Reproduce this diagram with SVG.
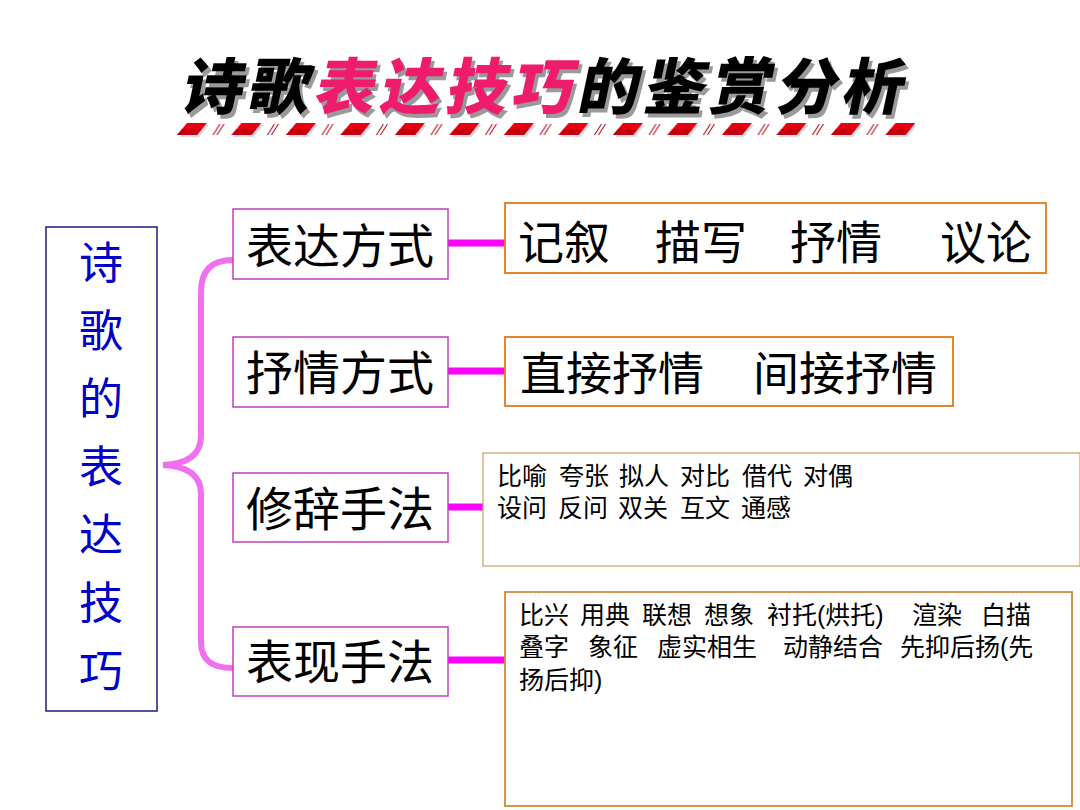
<svg xmlns="http://www.w3.org/2000/svg" width="1080" height="810" viewBox="0 0 1080 810">
<style>
.cjk{font-family:"Noto Sans CJK SC","Noto Sans CJK JP",sans-serif;}
.sm{font-family:"Liberation Sans","Noto Sans CJK SC",sans-serif;}
.cat{font-size:47px;fill:#000;}
.big{font-size:46px;fill:#000;}
.small3{font-size:25px;fill:#000;}
.small4{font-size:25px;fill:#000;}
.vert{font-size:44px;fill:#0000c8;text-anchor:middle;}
.catbox{fill:#fff;stroke:#c040c0;stroke-width:1.5;}
.rbox{fill:#fff;stroke:#e07a20;stroke-width:1.8;}
.conn{stroke:#ff00ff;stroke-width:7;fill:none;}
.title{font-size:61px;font-weight:900;letter-spacing:5px;}
</style>
<defs>
<pattern id="stripe" x="177" y="122" width="54.5" height="16" patternUnits="userSpaceOnUse">
<polygon points="2,15 12,3 32,3 22,15" fill="#d5dde2"/>
<polygon points="0,13 10,1 30,1 20,13" fill="#e60012"/>
<polygon points="0,13 5,7 25,7 20,13" fill="#c4000f"/>
<line x1="36" y1="13" x2="43" y2="2" stroke="#b00010" stroke-width="1"/>
<line x1="40" y1="13" x2="47" y2="2" stroke="#b00010" stroke-width="1"/>
</pattern>
</defs>
<rect width="1080" height="810" fill="#fff"/>

<g id="title">
<g transform="translate(180,109) skewX(-12)">
<text class="cjk title" x="4" y="4" fill="#9a9a9a">诗歌表达技巧的鉴赏分析</text>
<text class="cjk title" x="0" y="0" fill="#000">诗歌<tspan fill="#ee1c6a">表达技巧</tspan>的鉴赏分析</text>
</g>
<rect x="175" y="122" width="740" height="16" fill="url(#stripe)"/>
</g>

<g id="connectors">
<path d="M233,260 C212,260 201,270 201,292 L201,436 C201,456 186,464 163,465 C186,466 201,474 201,494 L201,642 C201,660 212,668 233,668" stroke="#f070f0" stroke-width="6" fill="none" stroke-linecap="round"/>
<line class="conn" x1="448" y1="243" x2="505" y2="243"/>
<line class="conn" x1="448" y1="371" x2="505" y2="371"/>
<line class="conn" x1="448" y1="507" x2="500" y2="507"/>
<line class="conn" x1="448" y1="660" x2="505" y2="660"/>
</g>

<g id="root">
<rect x="46" y="227" width="111" height="484" fill="#fff" stroke="#1a1a80" stroke-width="1.5"/>
<text class="cjk vert" x="101" y="279">诗</text>
<text class="cjk vert" x="101" y="347">歌</text>
<text class="cjk vert" x="101" y="415">的</text>
<text class="cjk vert" x="101" y="483">表</text>
<text class="cjk vert" x="101" y="551">达</text>
<text class="cjk vert" x="101" y="619">技</text>
<text class="cjk vert" x="101" y="687">巧</text>
</g>

<g id="cat1">
<rect class="catbox" x="233" y="209" width="215" height="70"/>
<text class="cjk cat" x="246" y="263">表达方式</text>
</g>
<g id="cat2">
<rect class="catbox" x="233" y="337" width="215" height="70"/>
<text class="cjk cat" x="246" y="390">抒情方式</text>
</g>
<g id="cat3">
<rect class="catbox" x="233" y="473" width="215" height="69"/>
<text class="cjk cat" x="246" y="526">修辞手法</text>
</g>
<g id="cat4">
<rect class="catbox" x="233" y="627" width="215" height="69"/>
<text class="cjk cat" x="246" y="679">表现手法</text>
</g>

<g id="detail1">
<rect class="rbox" x="505" y="203" width="541" height="70"/>
<text class="cjk big" y="258.5"><tspan x="518">记叙</tspan><tspan x="655">描写</tspan><tspan x="790">抒情</tspan><tspan x="940">议论</tspan></text>
</g>
<g id="detail2">
<rect class="rbox" x="505" y="337" width="448" height="69"/>
<text class="cjk big" y="389.5"><tspan x="520">直接抒情</tspan><tspan x="753">间接抒情</tspan></text>
</g>
<g id="detail3">
<rect x="483" y="453" width="597" height="113" fill="#fff" stroke="#c8a060" stroke-width="1.2"/>
<text class="sm small3" y="485"><tspan x="497">比喻</tspan><tspan x="559">夸张</tspan><tspan x="619">拟人</tspan><tspan x="680">对比</tspan><tspan x="742">借代</tspan><tspan x="803">对偶</tspan></text>
<text class="sm small3" y="517"><tspan x="497">设问</tspan><tspan x="558">反问</tspan><tspan x="618">双关</tspan><tspan x="680">互文</tspan><tspan x="741">通感</tspan></text>
</g>
<g id="detail4">
<rect x="505" y="592" width="567" height="214" fill="#fff" stroke="#d08a40" stroke-width="1.8"/>
<text class="sm small4" y="624"><tspan x="519">比兴</tspan><tspan x="580">用典</tspan><tspan x="642">联想</tspan><tspan x="704">想象</tspan><tspan x="767">衬托(烘托)</tspan><tspan x="912">渲染</tspan><tspan x="981">白描</tspan></text>
<text class="sm small4" y="656"><tspan x="519">叠字</tspan><tspan x="588">象征</tspan><tspan x="657">虚实相生</tspan><tspan x="783">动静结合</tspan><tspan x="900">先抑后扬(先</tspan></text>
<text class="sm small4" y="689"><tspan x="519">扬后抑)</tspan></text>
</g>
</svg>
